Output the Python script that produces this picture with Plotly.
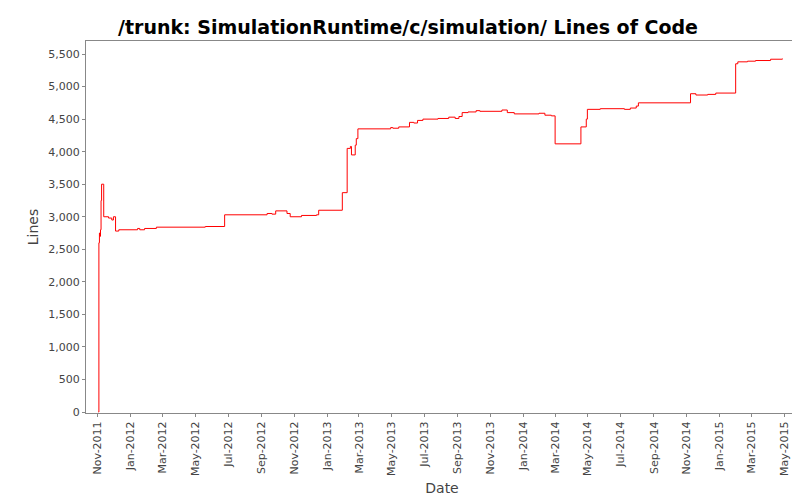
import plotly.graph_objects as go

# step points (date, lines of code)
dates = [
    "2011-11-02", "2011-11-03", "2011-11-04", "2011-11-05", "2011-11-06", "2011-11-07",
    "2011-11-08", "2011-11-12", "2011-11-21", "2011-11-27", "2011-11-30", "2011-12-04",
    "2011-12-10", "2012-01-14", "2012-01-18", "2012-01-27", "2012-02-18", "2012-05-19",
    "2012-06-24", "2012-09-11", "2012-09-20", "2012-09-27", "2012-10-18", "2012-10-24",
    "2012-11-14", "2012-12-12", "2012-12-16", "2013-01-29", "2013-02-07", "2013-02-13",
    "2013-02-15", "2013-02-22", "2013-02-24", "2013-02-27", "2013-04-29", "2013-05-03",
    "2013-05-14", "2013-06-03", "2013-06-11", "2013-06-18", "2013-06-28", "2013-07-26",
    "2013-08-15", "2013-08-27", "2013-09-03", "2013-09-09", "2013-09-20", "2013-10-05",
    "2013-10-12", "2013-11-22", "2013-12-02", "2013-12-15", "2014-01-30", "2014-02-10",
    "2014-02-22", "2014-03-01", "2014-04-18", "2014-04-28", "2014-04-30", "2014-05-24",
    "2014-07-08", "2014-07-19", "2014-07-30", "2014-08-03", "2014-11-08", "2014-11-18",
    "2014-12-10", "2014-12-25", "2015-01-31", "2015-02-04", "2015-02-22", "2015-03-09",
    "2015-04-06", "2015-04-28",
]
lines = [
    0, 2600, 2750, 2700, 2800, 3250,
    3500, 3000, 2980, 2950, 3000, 2780,
    2800, 2820, 2800, 2820, 2840, 2850,
    3030, 3050, 3040, 3090, 3050, 3000,
    3020, 3030, 3100, 3370, 4050, 4080,
    3950, 4100, 4200, 4350, 4370, 4360,
    4380, 4450, 4440, 4480, 4500, 4510,
    4530, 4510, 4540, 4600, 4610, 4630,
    4620, 4640, 4600, 4580, 4590, 4560,
    4550, 4120, 4380, 4500, 4650, 4660,
    4650, 4670, 4700, 4750, 4890, 4870,
    4880, 4900, 5350, 5380, 5390, 5400,
    5420, 5430,
]
tick_dates = ["2011-11-01", "2012-01-01", "2012-03-01", "2012-05-01", "2012-07-01",
              "2012-09-01", "2012-11-01", "2013-01-01", "2013-03-01", "2013-05-01",
              "2013-07-01", "2013-09-01", "2013-11-01", "2014-01-01", "2014-03-01",
              "2014-05-01", "2014-07-01", "2014-09-01", "2014-11-01", "2015-01-01",
              "2015-03-01", "2015-05-01"]

fig = go.Figure(go.Scatter(
    x=dates, y=lines, mode="lines", line=dict(color="red", width=1, shape="hv"),
))

axis_font = dict(family="DejaVu Sans", size=11, color="#444")
fig.update_layout(
    width=800, height=500,
    margin=dict(l=78, r=10, t=33, b=95),
    paper_bgcolor="white", plot_bgcolor="white",
    showlegend=False,
    title=dict(text="<b>/trunk: SimulationRuntime/c/simulation/ Lines of Code</b>",
               x=0.5, xanchor="center", y=0.975, yanchor="top",
               font=dict(family="DejaVu Sans", size=19, color="black")),
    font=axis_font,
)
fig.update_xaxes(
    range=["2011-10-10", "2015-05-27"], automargin=False,
    tickvals=tick_dates, tickformat="%b-%Y", tickangle=-90,
    ticks="outside", ticklen=3, tickcolor="#888",
    showgrid=False, showline=True, linecolor="#888", mirror=True,
    title=dict(text="Date", standoff=8,
               font=dict(family="DejaVu Sans", size=14, color="#444")),
)
fig.update_yaxes(
    range=[-15, 5700], automargin=False,
    tickvals=list(range(0, 5501, 500)), tickformat=",",
    ticks="outside", ticklen=3, tickcolor="#888",
    showgrid=False, showline=True, linecolor="#888", mirror=True, zeroline=False,
    title=dict(text="Lines", standoff=6,
               font=dict(family="DejaVu Sans", size=14, color="#444")),
)

fig.write_html("out.html")
